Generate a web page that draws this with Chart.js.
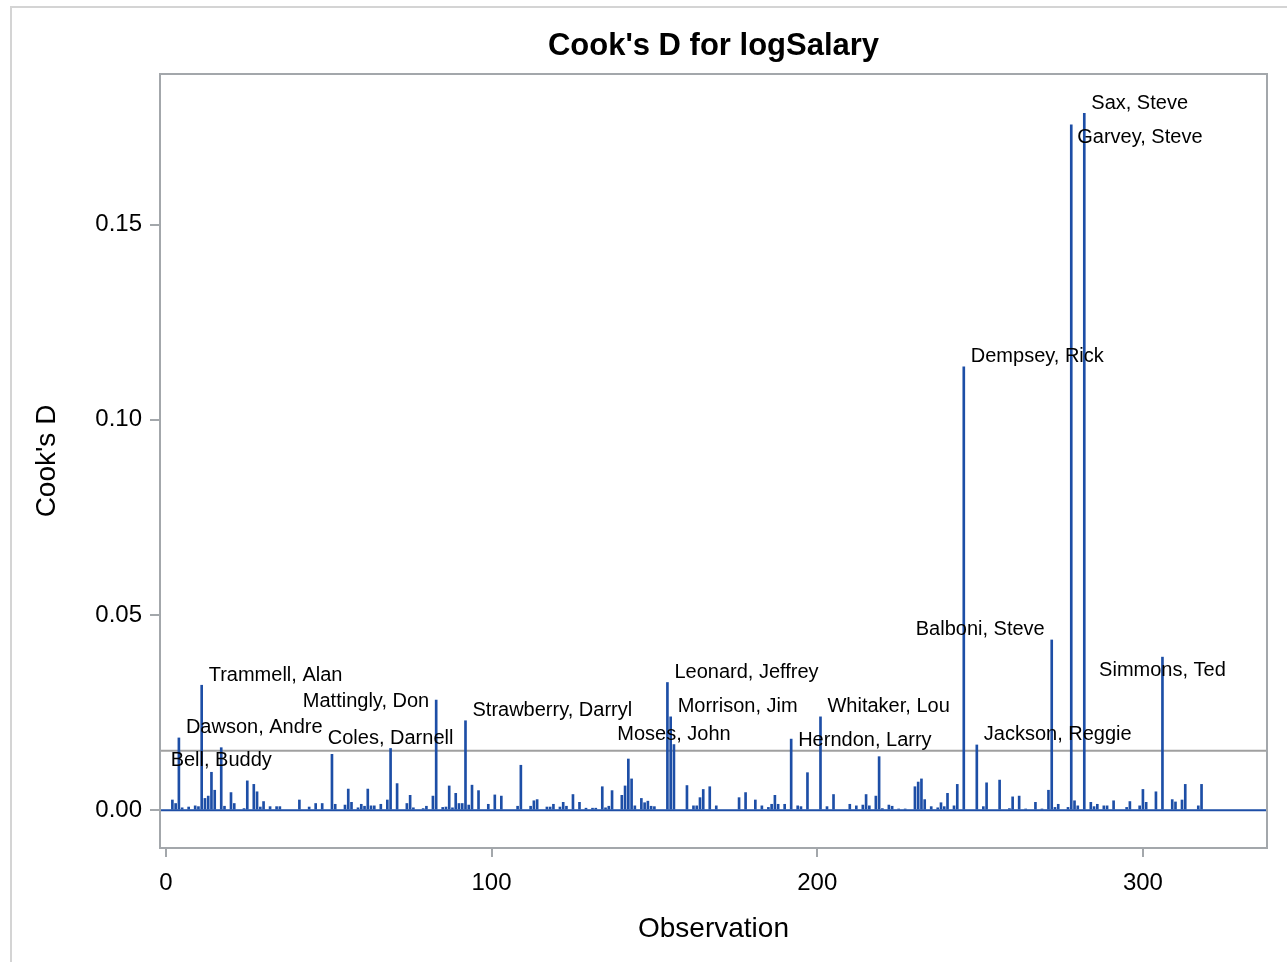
<!DOCTYPE html>
<html>
<head>
<meta charset="utf-8">
<script src="https://cdn.jsdelivr.net/npm/chart.js@4.4.1/dist/chart.umd.min.js"></script>
<style>
  html, body { margin: 0; padding: 0; background: #fff; overflow: hidden; }
  #frame { position: absolute; left: 10px; top: 6px; width: 1300px; height: 1000px;
           border-left: 2px solid #d4d4d4; border-top: 2px solid #d4d4d4; }
  #wrap { position: absolute; left: 0; top: 0; width: 1287px; height: 962px; }
</style>
</head>
<body>
<div id="frame"></div>
<div id="wrap"><canvas id="cooksChart" width="1287" height="962"></canvas></div>
<script>
  // observation numbers and Cook's D values
  const observations = [2, 3, 4, 5, 7, 9, 10, 11, 12, 13, 14, 15, 17, 18, 20, 21, 24, 25, 27, 28, 29, 30, 32, 34, 35, 41, 44, 46,
    48, 51, 52, 55, 56, 57, 59, 60, 61, 62, 63, 64, 66, 68, 69, 71, 74, 75, 76, 79, 80, 82, 83, 85, 86, 87, 88, 89, 90, 91, 92, 93, 94, 96,
    99, 101, 103, 108, 109, 112, 113, 114, 117, 118, 119, 121, 122, 123, 125, 127, 129, 131, 132, 134, 135, 136, 137, 140, 141, 142, 143, 144,
    146, 147, 148, 149, 150, 154, 155, 156, 160, 162, 163, 164, 165, 167, 169, 176, 178, 181, 183, 185, 186, 187, 188, 190, 192, 194,
    195, 197, 201, 203, 205, 210, 212, 214, 215, 216, 218, 219, 220, 222, 223, 225, 227, 230, 231, 232, 233, 235, 237, 238, 239, 240, 242, 243,
    245, 249, 251, 252, 256, 259, 260, 262, 264, 267, 269, 271, 272, 273, 274, 277, 278, 279, 280, 282, 284, 285, 286, 288, 289, 291,
    295, 296, 299, 300, 301, 304, 306, 309, 310, 312, 313, 317, 318];
  const cooksD = [0.0026, 0.0017, 0.0185, 0.0006, 0.0008, 0.0011, 0.0009, 0.0320, 0.0030, 0.0036, 0.0097, 0.0051, 0.0160, 0.0010, 0.0045, 0.0017, 0.0004, 0.0075, 0.0066, 0.0047, 0.0008, 0.0022, 0.0009, 0.0009, 0.0009, 0.0026, 0.0008, 0.0017,
    0.0017, 0.0143, 0.0015, 0.0013, 0.0054, 0.0020, 0.0006, 0.0015, 0.0010, 0.0054, 0.0011, 0.0011, 0.0015, 0.0026, 0.0158, 0.0068, 0.0017, 0.0038, 0.0006, 0.0004, 0.0010, 0.0036, 0.0282, 0.0007, 0.0008, 0.0062, 0.0006, 0.0043, 0.0017, 0.0017, 0.0229, 0.0013, 0.0064, 0.0050,
    0.0015, 0.0039, 0.0036, 0.0010, 0.0115, 0.0010, 0.0024, 0.0027, 0.0008, 0.0008, 0.0015, 0.0008, 0.0020, 0.0010, 0.0040, 0.0020, 0.0005, 0.0005, 0.0005, 0.0060, 0.0006, 0.0010, 0.0050, 0.0038, 0.0062, 0.0131, 0.0080, 0.0011,
    0.0030, 0.0019, 0.0023, 0.0010, 0.0009, 0.0327, 0.0239, 0.0168, 0.0063, 0.0011, 0.0011, 0.0032, 0.0053, 0.0060, 0.0011, 0.0032, 0.0045, 0.0026, 0.0011, 0.0007, 0.0015, 0.0038, 0.0015, 0.0015, 0.0182, 0.0011,
    0.0009, 0.0096, 0.0239, 0.0009, 0.0040, 0.0015, 0.0011, 0.0013, 0.0040, 0.0011, 0.0036, 0.0137, 0.0004, 0.0013, 0.0010, 0.0003, 0.0003, 0.0060, 0.0072, 0.0080, 0.0027, 0.0009, 0.0006, 0.0019, 0.0009, 0.0043, 0.0011, 0.0066,
    0.1136, 0.0167, 0.0009, 0.0070, 0.0077, 0.0004, 0.0034, 0.0036, 0.0003, 0.0020, 0.0003, 0.0051, 0.0436, 0.0007, 0.0015, 0.0007, 0.1756, 0.0024, 0.0011, 0.1785, 0.0020, 0.0009, 0.0015, 0.0011, 0.0011, 0.0024,
    0.0007, 0.0022, 0.0011, 0.0053, 0.0020, 0.0047, 0.0392, 0.0027, 0.0021, 0.0026, 0.0066, 0.0011, 0.0066];

  // influential observations and where their labels go relative to the needle top
  const labelObs = [282, 278, 245, 272, 306, 249, 201, 192, 154, 155, 156, 92, 83, 69, 11, 4, 17];
  const labelNames = ['Sax, Steve', 'Garvey, Steve', 'Dempsey, Rick', 'Balboni, Steve', 'Simmons, Ted', 'Jackson, Reggie',
    'Whitaker, Lou', 'Herndon, Larry', 'Leonard, Jeffrey', 'Morrison, Jim', 'Moses, John', 'Strawberry, Darryl',
    'Mattingly, Don', 'Coles, Darnell', 'Trammell, Alan', 'Dawson, Andre', 'Bell, Buddy'];
  const labelPlace = ['ne', 'se', 'ne', 'nw', 's', 'ne', 'ne', 'e', 'ne', 'ne', 'n', 'ne', 'w', 'n', 'ne', 'ne', 's'];

  const xTicks = [0, 100, 200, 300];
  const yTicks = [0, 0.05, 0.10, 0.15];
  const cutoff = 4 / 263;

  const needleColor = '#1d4ea6';
  const axisGrey = '#a3a7ab';
  const fontFamily = '"Liberation Sans", Arial, sans-serif';

  const extras = {
    id: 'extras',
    beforeDatasetsDraw(chart) {
      const { ctx, chartArea: a, scales } = chart;
      ctx.save();
      // reference line at 4/n
      const yc = scales.y.getPixelForValue(cutoff);
      ctx.strokeStyle = '#a0a0a0';
      ctx.lineWidth = 2;
      ctx.beginPath();
      ctx.moveTo(a.left, yc);
      ctx.lineTo(a.right, yc);
      ctx.stroke();
      ctx.restore();
    },
    afterDatasetsDraw(chart) {
      const { ctx, chartArea: a, scales } = chart;
      ctx.save();
      // zero baseline
      const y0 = scales.y.getPixelForValue(0);
      ctx.strokeStyle = needleColor;
      ctx.lineWidth = 2;
      ctx.beginPath();
      ctx.moveTo(a.left, y0);
      ctx.lineTo(a.right, y0);
      ctx.stroke();

      // plot frame
      ctx.strokeStyle = axisGrey;
      ctx.lineWidth = 2;
      ctx.strokeRect(a.left, a.top, a.right - a.left, a.bottom - a.top);

      // needle labels
      ctx.fillStyle = '#000';
      ctx.font = '20px ' + fontFamily;
      ctx.textBaseline = 'middle';
      labelObs.forEach((ob, i) => {
        const idx = observations.indexOf(ob);
        const px = scales.x.getPixelForValue(ob);
        const py = scales.y.getPixelForValue(cooksD[idx]);
        const p = labelPlace[i];
        let tx = px, ty = py + 1, align = 'center';
        if (p === 'ne') { tx = px + 7; ty = py - 10; align = 'left'; }
        if (p === 'se') { tx = px + 6; ty = py + 13; align = 'left'; }
        if (p === 'e')  { tx = px + 7; align = 'left'; }
        if (p === 'nw') { tx = px - 7; ty = py - 10; align = 'right'; }
        if (p === 'w')  { tx = px - 7; align = 'right'; }
        if (p === 'n')  { ty = py - 10; }
        if (p === 's')  { ty = py + 13; }
        ctx.textAlign = align;
        ctx.fillText(labelNames[i], tx, ty);
      });

      // title centred over the plot area
      ctx.font = 'bold 31px ' + fontFamily;
      ctx.textAlign = 'center';
      ctx.fillText("Cook's D for logSalary", (a.left + a.right) / 2, 46);
      ctx.restore();
    }
  };

  const ctx = document.getElementById('cooksChart').getContext('2d');
  const cooksChart = new Chart(ctx, {
    type: 'bar',
    data: {
      datasets: [{
        data: observations.map((o, i) => ({ x: o, y: cooksD[i] })),
        backgroundColor: needleColor,
        borderWidth: 0,
        barThickness: 2
      }]
    },
    options: {
      responsive: false,
      animation: false,
      layout: { padding: { left: 30, right: 20, top: 74, bottom: 10 } },
      plugins: {
        legend: { display: false },
        tooltip: { enabled: false }
      },
      scales: {
        x: {
          type: 'linear',
          offset: false,
          min: -1.8,
          max: 338.1,
          afterBuildTicks: (axis) => { axis.ticks = xTicks.map(v => ({ value: v })); },
          afterFit: (axis) => { axis.height = 104; },
          grid: { offset: false, drawOnChartArea: false, drawTicks: true, tickLength: 9, color: axisGrey, lineWidth: 2 },
          border: { display: false },
          ticks: { color: '#000', padding: 12, maxRotation: 0, font: { size: 24, family: fontFamily } },
          title: { display: true, text: 'Observation', color: '#000', padding: { top: 0, bottom: 6 },
                   font: { size: 28, family: fontFamily } }
        },
        y: {
          min: -0.0097,
          max: 0.1886,
          afterBuildTicks: (axis) => { axis.ticks = yTicks.map(v => ({ value: v })); },
          afterFit: (axis) => { axis.width = 130; },
          grid: { drawOnChartArea: false, drawTicks: true, tickLength: 10, color: axisGrey, lineWidth: 2 },
          border: { display: false },
          ticks: { color: '#000', padding: 8, font: { size: 24, family: fontFamily },
                   callback: (v) => v.toFixed(2) },
          title: { display: true, text: "Cook's D", color: '#000', padding: { top: 0, bottom: 0 },
                   font: { size: 28, family: fontFamily } }
        }
      }
    },
    plugins: [extras]
  });
</script>
</body>
</html>
